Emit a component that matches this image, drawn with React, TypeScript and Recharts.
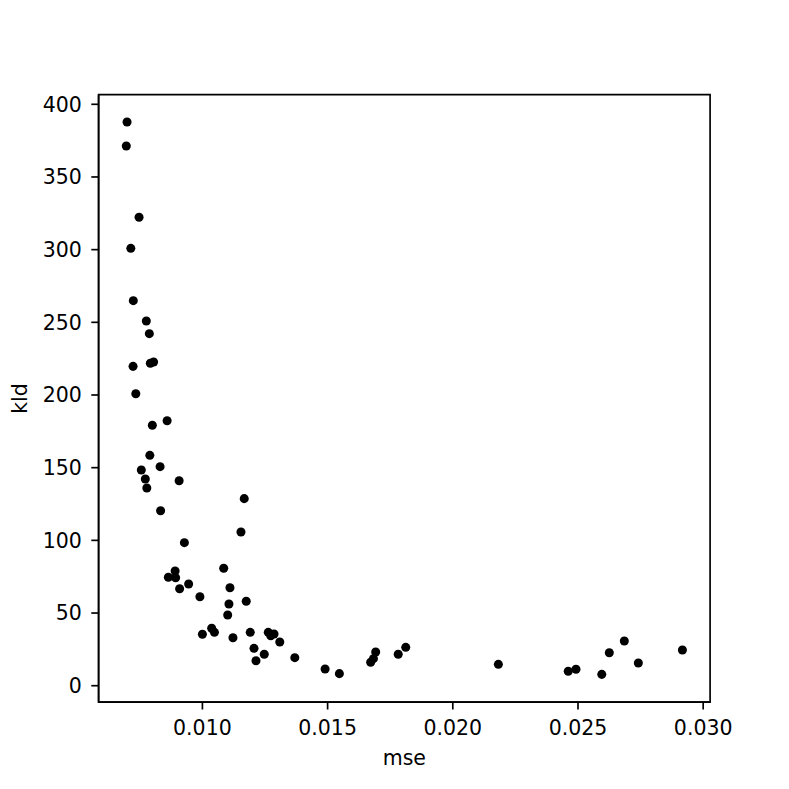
import React from 'react';
import { ScatterChart, Scatter, XAxis, YAxis, ZAxis, ReferenceArea } from 'recharts';

const mseValues = [
  0.00699, 0.00696, 0.00747, 0.00714, 0.00724, 0.00776, 0.00788, 0.00792, 0.00805, 0.00723,
  0.00734, 0.00859, 0.00800, 0.00790, 0.00831, 0.00756, 0.00772, 0.00907, 0.00778, 0.01167,
  0.00833, 0.01154, 0.00928, 0.01085, 0.00891, 0.00864, 0.00893, 0.00909, 0.00945, 0.00990,
  0.01110, 0.01106, 0.01101, 0.01175, 0.01037, 0.01048, 0.01000, 0.01122, 0.01191, 0.01263,
  0.01273, 0.01286, 0.01309, 0.01206, 0.01247, 0.01214, 0.01369, 0.01490, 0.01547, 0.01672,
  0.01683, 0.01692, 0.01782, 0.01812, 0.02182, 0.02461, 0.02492, 0.02595, 0.02625, 0.02685,
  0.02741, 0.02917,
];

const kldValues = [
  387.8, 371.3, 322.3, 300.9, 264.9, 250.9, 242.2, 221.8, 222.7, 219.7,
  200.9, 182.3, 179.2, 158.5, 150.7, 148.4, 142.2, 141.0, 136.0, 128.7,
  120.4, 105.7, 98.4, 80.8, 78.9, 74.6, 74.3, 66.7, 70.0, 61.2,
  67.4, 56.2, 48.6, 58.1, 39.5, 36.7, 35.4, 33.0, 36.7, 36.7,
  34.4, 35.6, 30.1, 25.7, 21.6, 17.2, 19.3, 11.5, 8.3, 16.1,
  18.6, 23.2, 21.6, 26.4, 14.7, 9.9, 11.3, 7.8, 22.7, 30.8,
  15.6, 24.6,
];

const xTicks = [0.01, 0.015, 0.02, 0.025, 0.03];
const yTicks = [0, 50, 100, 150, 200, 250, 300, 350, 400];
const xDomain: [number, number] = [0.005854, 0.030276];
const yDomain: [number, number] = [-11.35, 406.6];

const data = mseValues.map((mse, i) => ({ mse, kld: kldValues[i] }));

const FONT = 'DejaVu Sans';
const FS = 20.5;
const AX = { stroke: '#000', strokeWidth: 1.67 };
const tickStyle = { fill: '#000', fontSize: FS, fontFamily: FONT };

export default function App() {
  return (
    <div style={{ position: 'absolute', left: 0, top: 0, width: 789, height: 789, background: '#fff' }}>
      <ScatterChart width={789} height={789} margin={{ top: 94.7, right: 78.9, bottom: 0, left: 0 }}>
        <ZAxis range={[72, 72]} />
        <XAxis
          dataKey="mse"
          type="number"
          domain={xDomain}
          allowDataOverflow
          ticks={xTicks}
          tickFormatter={(v: number) => v.toFixed(3)}
          height={86.8}
          tickSize={7.3}
          tickMargin={11}
          axisLine={AX}
          tickLine={AX}
          tick={tickStyle}
          label={{ value: 'mse', position: 'insideBottom', offset: 24, fill: '#000', fontSize: FS, fontFamily: FONT }}
        />
        <YAxis
          dataKey="kld"
          type="number"
          domain={yDomain}
          allowDataOverflow
          ticks={yTicks}
          width={98.6}
          tickSize={7.3}
          tickMargin={9.5}
          axisLine={AX}
          tickLine={AX}
          tick={tickStyle}
          label={{ value: 'kld', angle: -90, position: 'insideLeft', offset: 20, fill: '#000', fontSize: FS, fontFamily: FONT, style: { textAnchor: 'middle' } }}
        />
        <ReferenceArea
          x1={xDomain[0]}
          x2={xDomain[1]}
          y1={yDomain[0]}
          y2={yDomain[1]}
          fill="none"
          fillOpacity={0}
          stroke="#000"
          strokeWidth={1.67}
          ifOverflow="visible"
        />
        <Scatter data={data} fill="#000" isAnimationActive={false} />
      </ScatterChart>
    </div>
  );
}
